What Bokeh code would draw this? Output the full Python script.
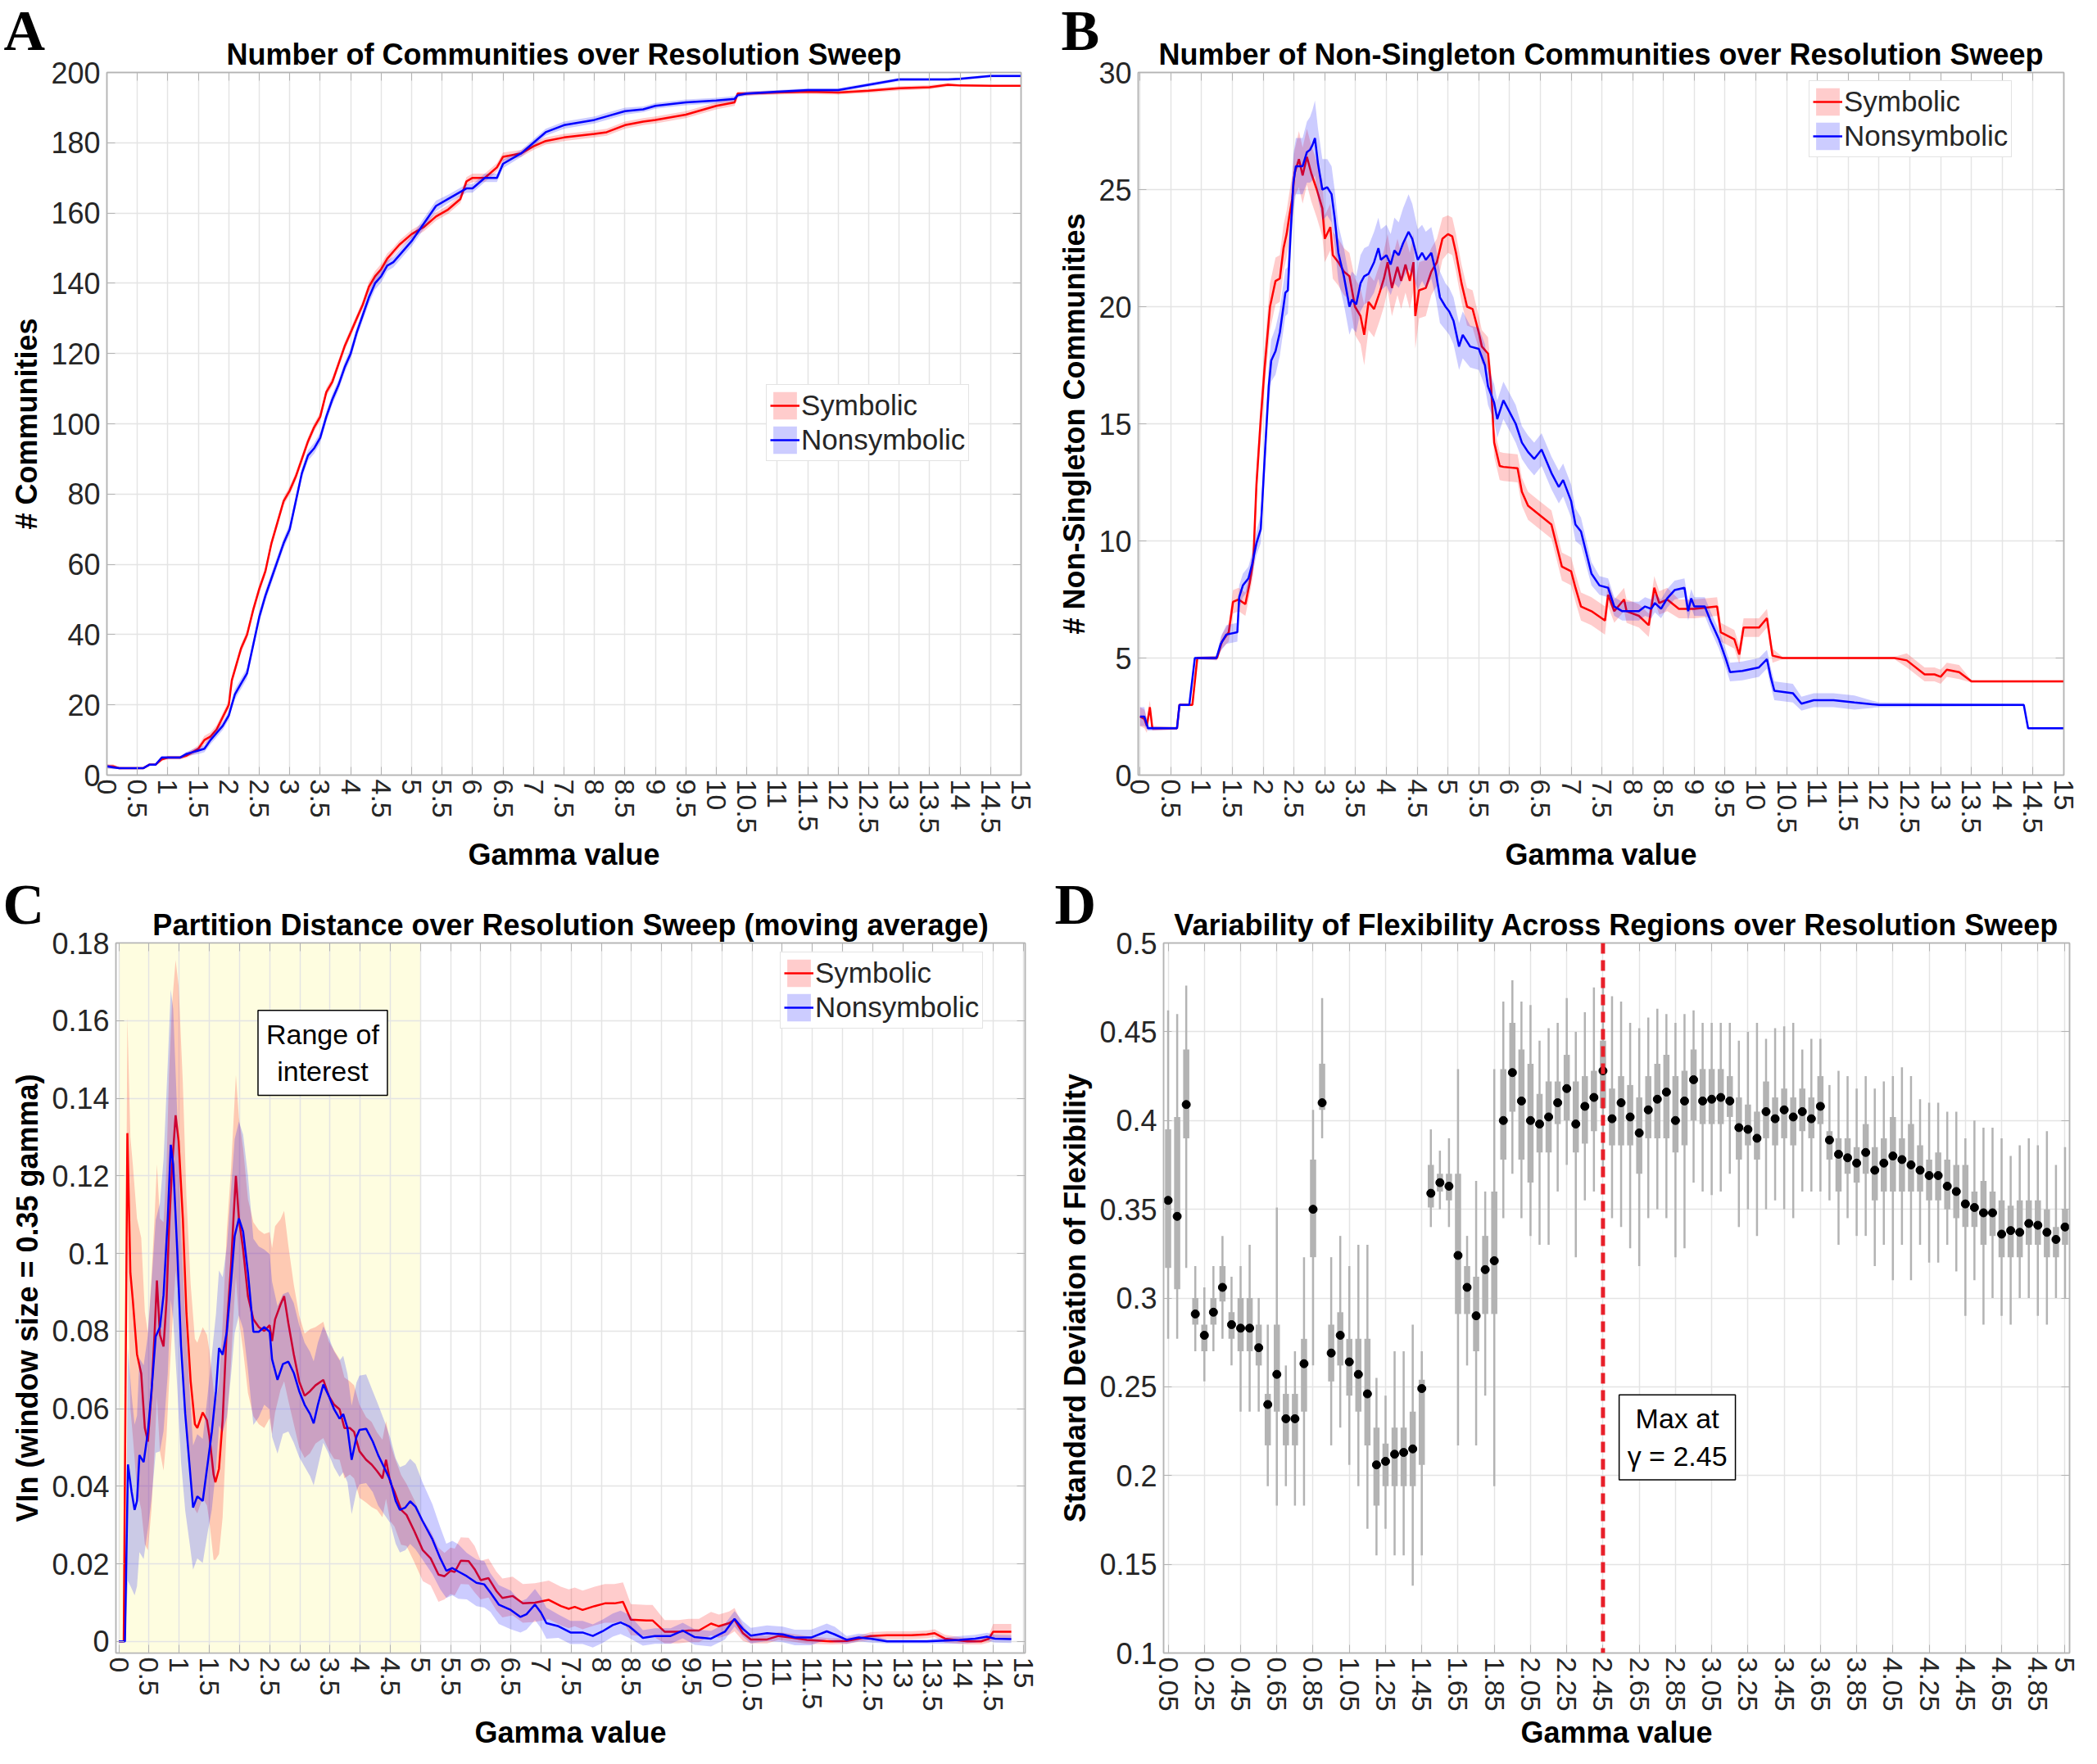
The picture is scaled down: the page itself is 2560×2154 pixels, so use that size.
import math
from bokeh.plotting import figure
from bokeh.models import (Range1d, FixedTicker, CustomJSTickFormatter, Legend, LinearAxis,
                          LegendItem, Label, Span, BoxAnnotation, Title)
from bokeh.layouts import column, row
from bokeh.embed import file_html
from bokeh.resources import INLINE

FONT = "Liberation Sans"
SERIF = "Liberation Serif"
RED = "#ff0000"
BLUE = "#0000ff"

# ---------------- data ----------------
# Panel A: (gamma, mean, half-band)
A_SYM = [(0, 2.5, 0.6), (0.1, 2.5, 0.6), (0.2, 2, 0.3), (0.3, 2, 0.2), (0.5, 2, 0.2), (0.6, 2, 0.2),
         (0.7, 3, 0.3), (0.8, 3, 0.3), (0.9, 4.5, 0.5), (1.0, 5, 0.5), (1.1, 5, 0.5), (1.2, 5, 0.5),
         (1.3, 5.5, 0.6), (1.4, 6.5, 0.8), (1.5, 7.5, 1.0), (1.6, 10, 1.2), (1.7, 11, 1.2), (1.8, 13, 1.2),
         (1.9, 16.5, 1.2), (2.0, 20, 1.2), (2.05, 27, 1.2), (2.1, 30, 1.2), (2.2, 36, 1.2), (2.3, 40, 1.2),
         (2.4, 47, 1.2), (2.5, 53, 1.2), (2.6, 58, 1.2), (2.7, 66, 1.2), (2.8, 72, 1.2), (2.9, 78, 1.2),
         (3.0, 81, 1.2), (3.1, 85, 1.2), (3.2, 90, 1.2), (3.3, 95, 1.2), (3.4, 99, 1.2), (3.5, 102, 1.2),
         (3.6, 109, 1.2), (3.7, 112, 1.2), (3.8, 117, 1.2), (3.9, 122, 1.2), (4.0, 126, 1.2), (4.1, 130, 1.2),
         (4.2, 134, 1.2), (4.3, 139, 1.5), (4.4, 142, 1.5), (4.5, 144, 1.5), (4.6, 147, 1.5), (4.7, 149, 1.2),
         (4.8, 151, 1.2), (5.0, 154, 1.2), (5.2, 156, 1.2), (5.4, 159, 1.2), (5.6, 161, 1.2), (5.8, 164, 1.2),
         (5.9, 169, 1.2), (6.0, 170, 1.2), (6.2, 170, 1.2), (6.4, 173, 1.2), (6.5, 176, 1.2), (6.8, 177, 1.0),
         (7.0, 179, 1.0), (7.2, 180.5, 1.0), (7.5, 181.5, 1.0), (8.0, 182.5, 1.0), (8.2, 183, 1.0),
         (8.5, 185, 1.0), (8.8, 186, 1.0), (9.0, 186.5, 1.0), (9.5, 188, 1.0), (10.0, 190.5, 1.0),
         (10.3, 191.5, 1.0), (10.35, 194, 0.6), (10.5, 194, 0.6), (11.0, 194.3, 0.6), (11.5, 194.5, 0.6),
         (12.0, 194.3, 0.6), (12.5, 194.8, 0.6), (13.0, 195.5, 0.6), (13.5, 195.8, 0.6), (13.8, 196.5, 0.5),
         (14.0, 196.3, 0.3), (14.5, 196.2, 0.2), (15.0, 196.2, 0.2)]
A_NON = [(0, 2.5, 0.6), (0.1, 2.2, 0.5), (0.2, 2, 0.3), (0.3, 2, 0.2), (0.5, 2, 0.2), (0.6, 2, 0.2),
         (0.7, 3, 0.3), (0.8, 3, 0.3), (0.9, 5, 0.4), (1.0, 5, 0.4), (1.1, 5, 0.4), (1.2, 5, 0.4),
         (1.3, 6, 0.6), (1.4, 6.5, 0.8), (1.5, 7, 1.0), (1.6, 7.5, 1.0), (1.7, 10, 1.2), (1.8, 12, 1.2),
         (1.9, 14, 1.2), (2.0, 17, 1.2), (2.05, 20, 1.2), (2.1, 23, 1.5), (2.2, 26, 1.5), (2.3, 29, 1.5),
         (2.4, 37, 1.5), (2.5, 45, 1.5), (2.6, 51, 1.5), (2.7, 56, 1.5), (2.8, 61, 1.5), (2.9, 66, 1.5),
         (3.0, 70, 1.5), (3.1, 78, 1.5), (3.2, 86, 1.5), (3.3, 91, 1.5), (3.4, 93, 1.5), (3.5, 96, 1.5),
         (3.6, 102, 1.5), (3.7, 107, 1.5), (3.8, 111, 1.5), (3.9, 116, 1.5), (4.0, 120, 1.5), (4.1, 126, 1.5),
         (4.2, 131, 1.5), (4.3, 136, 1.8), (4.4, 140, 1.8), (4.5, 142, 1.8), (4.6, 145, 1.5), (4.7, 146, 1.5),
         (4.8, 148, 1.5), (5.0, 152, 1.5), (5.2, 157, 1.5), (5.4, 162, 1.5), (5.6, 164, 1.2), (5.8, 166, 1.2),
         (5.9, 167, 1.2), (6.0, 167, 1.2), (6.2, 170, 1.2), (6.4, 170, 1.2), (6.5, 174, 1.2), (6.8, 177, 1.0),
         (7.0, 180, 1.0), (7.2, 183, 1.0), (7.5, 185, 1.0), (8.0, 186.5, 1.0), (8.2, 187.5, 1.0),
         (8.5, 189, 1.0), (8.8, 189.5, 0.8), (9.0, 190.5, 0.8), (9.5, 191.5, 0.8), (10.0, 192, 0.8),
         (10.3, 192.5, 0.8), (10.35, 193.5, 0.6), (10.5, 194, 0.6), (11.0, 194.5, 0.5), (11.5, 195, 0.5),
         (12.0, 195, 0.5), (12.5, 196.5, 0.5), (13.0, 198, 0.5), (13.5, 198, 0.4), (13.8, 198, 0.4),
         (14.0, 198.2, 0.4), (14.5, 199, 0.4), (15.0, 199, 0.4)]

# Panel B
B_SYM = [(0.0, 2.5, 0.4), (0.07, 2.4, 0.4), (0.11, 2.1, 0.3), (0.16, 2.9, 0.3), (0.2, 2.0, 0.1), (0.6, 2.0, 0.05),
         (0.64, 3.0, 0.05), (0.85, 3.0, 0.05), (0.93, 5.0, 0.05), (1.25, 5.0, 0.1), (1.33, 5.7, 0.3),
         (1.44, 6.1, 0.4), (1.51, 7.4, 0.5), (1.6, 7.5, 0.5), (1.71, 7.3, 0.5), (1.78, 8.2, 0.5), (1.84, 9.2, 0.6),
         (1.89, 12.4, 0.7), (1.96, 15.2, 0.8), (2.02, 17.3, 0.9), (2.11, 20.0, 1.0), (2.2, 21.1, 1.0),
         (2.27, 21.2, 1.0), (2.33, 22.5, 1.0), (2.38, 23.1, 1.0), (2.42, 23.8, 1.0), (2.47, 24.6, 1.0),
         (2.51, 25.7, 1.0), (2.58, 26.3, 1.2), (2.64, 25.6, 1.2), (2.71, 26.4, 1.2), (2.78, 25.7, 1.2),
         (2.87, 25.0, 1.2), (2.96, 24.2, 1.2), (3.0, 22.9, 1.0), (3.09, 23.4, 1.0), (3.13, 22.2, 1.0),
         (3.22, 21.9, 1.0), (3.31, 21.5, 1.0), (3.4, 21.3, 1.0), (3.49, 20.0, 1.2), (3.58, 19.6, 1.2),
         (3.64, 18.8, 1.3), (3.71, 20.2, 1.2), (3.8, 19.9, 1.2), (3.89, 20.6, 1.2), (3.96, 21.2, 1.2),
         (4.02, 21.9, 1.2), (4.09, 20.8, 1.2), (4.18, 21.7, 1.2), (4.24, 21.1, 1.2), (4.31, 21.8, 1.2),
         (4.38, 21.1, 1.2), (4.44, 21.9, 1.2), (4.47, 19.6, 1.4), (4.53, 20.7, 1.2), (4.64, 20.8, 1.2),
         (4.73, 21.5, 1.0), (4.82, 21.9, 1.0), (4.91, 22.9, 0.9), (5.0, 23.1, 0.8), (5.07, 23.0, 0.8),
         (5.13, 22.3, 0.8), (5.22, 21.0, 0.8), (5.31, 20.0, 0.8), (5.4, 19.9, 0.8), (5.5, 18.9, 0.7),
         (5.55, 18.3, 0.7), (5.65, 18.0, 0.7), (5.7, 16.6, 0.7), (5.75, 14.2, 0.6), (5.84, 13.2, 0.6),
         (5.9, 13.16, 0.6), (6.13, 13.1, 0.6), (6.2, 12.1, 0.6), (6.3, 11.5, 0.6), (6.49, 11.1, 0.6),
         (6.68, 10.7, 0.6), (6.85, 8.9, 0.6), (7.0, 8.7, 0.6), (7.07, 8.0, 0.6), (7.16, 7.2, 0.6),
         (7.33, 7.0, 0.6), (7.55, 6.6, 0.6), (7.6, 7.7, 0.5), (7.7, 7.0, 0.5), (7.86, 7.5, 0.5), (7.9, 7.0, 0.5),
         (8.1, 6.8, 0.5), (8.26, 6.4, 0.5), (8.35, 8.0, 0.5), (8.43, 7.35, 0.5), (8.56, 7.5, 0.5),
         (8.75, 7.1, 0.4), (9.0, 7.1, 0.4), (9.37, 7.2, 0.4), (9.43, 6.1, 0.4), (9.65, 5.8, 0.4),
         (9.73, 5.15, 0.4), (9.8, 6.3, 0.4), (10.05, 6.3, 0.4), (10.18, 6.7, 0.4), (10.27, 5.1, 0.3),
         (10.43, 5.0, 0.05), (12.25, 5.0, 0.05), (12.45, 4.9, 0.3), (12.74, 4.3, 0.3), (12.9, 4.3, 0.3),
         (13.0, 4.2, 0.3), (13.1, 4.5, 0.3), (13.3, 4.4, 0.3), (13.5, 4.0, 0.05), (15.0, 4.0, 0.05)]
B_NON = [(0.0, 2.5, 0.4), (0.07, 2.5, 0.4), (0.13, 2.0, 0.1), (0.6, 2.0, 0.05), (0.64, 3.0, 0.05), (0.8, 3.0, 0.05),
         (0.89, 5.0, 0.05), (1.24, 5.0, 0.1), (1.31, 5.6, 0.3), (1.4, 6.0, 0.4), (1.58, 6.1, 0.4), (1.61, 7.6, 0.5),
         (1.67, 8.1, 0.5), (1.76, 8.4, 0.5), (1.82, 9.0, 0.5), (1.89, 9.9, 0.5), (1.96, 10.5, 0.6), (2.0, 12.4, 0.7),
         (2.04, 14.3, 0.8), (2.09, 16.6, 0.9), (2.13, 17.7, 0.9), (2.2, 18.1, 1.0), (2.27, 18.9, 1.0),
         (2.36, 20.6, 1.0), (2.4, 20.7, 1.0), (2.44, 22.9, 1.0), (2.49, 25.3, 1.2), (2.53, 26.0, 1.2),
         (2.64, 26.0, 1.2), (2.71, 26.6, 1.3), (2.76, 26.7, 1.4), (2.8, 26.9, 1.5), (2.84, 27.2, 1.6),
         (2.89, 26.1, 1.5), (2.96, 25.0, 1.3), (3.04, 25.1, 1.2), (3.11, 24.8, 1.2), (3.16, 23.8, 1.2),
         (3.22, 22.3, 1.2), (3.31, 21.3, 1.2), (3.4, 20.0, 1.2), (3.44, 20.3, 1.2), (3.51, 20.1, 1.2),
         (3.58, 21.0, 1.2), (3.64, 21.3, 1.2), (3.71, 21.4, 1.2), (3.8, 21.9, 1.3), (3.87, 22.5, 1.3),
         (3.91, 22.0, 1.3), (4.0, 22.2, 1.3), (4.07, 21.8, 1.3), (4.13, 22.4, 1.4), (4.2, 22.2, 1.4),
         (4.27, 22.7, 1.5), (4.36, 23.2, 1.6), (4.42, 22.9, 1.5), (4.51, 22.0, 1.3), (4.58, 22.3, 1.2),
         (4.64, 22.0, 1.2), (4.73, 22.3, 1.1), (4.8, 21.5, 1.1), (4.87, 20.4, 1.1), (4.96, 20.0, 1.0),
         (5.02, 19.8, 1.0), (5.09, 19.4, 1.0), (5.18, 18.3, 1.0), (5.24, 18.8, 1.0), (5.36, 18.3, 0.9),
         (5.5, 18.2, 0.9), (5.6, 17.5, 0.9), (5.65, 16.6, 0.8), (5.75, 15.9, 0.8), (5.8, 15.2, 0.8),
         (5.9, 16.0, 0.8), (6.0, 15.5, 0.8), (6.1, 15.0, 0.8), (6.2, 14.2, 0.7), (6.3, 13.8, 0.7),
         (6.4, 13.5, 0.7), (6.52, 13.9, 0.7), (6.68, 12.9, 0.7), (6.8, 12.3, 0.7), (6.87, 12.6, 0.7),
         (7.0, 11.7, 0.7), (7.07, 10.7, 0.7), (7.16, 10.4, 0.6), (7.33, 8.6, 0.5), (7.46, 8.1, 0.4),
         (7.6, 8.0, 0.4), (7.7, 7.2, 0.4), (7.83, 7.0, 0.4), (8.1, 7.0, 0.4), (8.2, 7.2, 0.4), (8.3, 7.1, 0.4),
         (8.36, 7.35, 0.4), (8.46, 7.1, 0.4), (8.56, 7.55, 0.4), (8.68, 7.9, 0.4), (8.84, 8.0, 0.4),
         (8.9, 7.0, 0.4), (8.95, 7.55, 0.4), (9.0, 7.2, 0.4), (9.17, 7.2, 0.4), (9.27, 6.55, 0.4),
         (9.4, 5.8, 0.4), (9.52, 4.9, 0.4), (9.58, 4.4, 0.4), (9.78, 4.45, 0.4), (10.05, 4.6, 0.4),
         (10.18, 4.95, 0.4), (10.24, 4.2, 0.4), (10.3, 3.6, 0.4), (10.6, 3.5, 0.4), (10.74, 3.05, 0.3),
         (10.94, 3.2, 0.3), (11.26, 3.2, 0.3), (11.6, 3.1, 0.3), (12.0, 3.0, 0.1), (14.35, 3.0, 0.05),
         (14.42, 2.0, 0.05), (15.0, 2.0, 0.05)]

# Panel C
C_SYM = [(0.0, 0.0, 0.0), (0.08, 0.0, 0.0), (0.14, 0.131, 0.03), (0.19, 0.095, 0.035), (0.23, 0.088, 0.035),
         (0.3, 0.074, 0.035), (0.37, 0.069, 0.035), (0.43, 0.055, 0.03), (0.48, 0.0515, 0.028),
         (0.54, 0.064, 0.03), (0.59, 0.079, 0.03), (0.63, 0.093, 0.03), (0.68, 0.079, 0.03),
         (0.74, 0.076, 0.032), (0.79, 0.088, 0.035), (0.83, 0.106, 0.04), (0.88, 0.122, 0.042),
         (0.94, 0.1356, 0.04), (0.99, 0.129, 0.04), (1.06, 0.109, 0.035), (1.12, 0.0845, 0.03),
         (1.19, 0.067, 0.025), (1.26, 0.056, 0.022), (1.3, 0.055, 0.022), (1.39, 0.059, 0.022),
         (1.46, 0.057, 0.022), (1.5, 0.053, 0.022), (1.57, 0.043, 0.022), (1.6, 0.041, 0.02),
         (1.66, 0.0445, 0.022), (1.72, 0.057, 0.025), (1.79, 0.081, 0.025), (1.86, 0.097, 0.025),
         (1.9, 0.109, 0.025), (1.94, 0.120, 0.026), (1.99, 0.109, 0.026), (2.06, 0.101, 0.026),
         (2.14, 0.089, 0.025), (2.23, 0.083, 0.025), (2.32, 0.081, 0.025), (2.41, 0.080, 0.025),
         (2.5, 0.0815, 0.024), (2.54, 0.0774, 0.024), (2.59, 0.083, 0.024), (2.68, 0.0868, 0.022),
         (2.74, 0.089, 0.022), (2.81, 0.082, 0.02), (2.9, 0.074, 0.018), (2.99, 0.067, 0.017),
         (3.08, 0.0633, 0.016), (3.17, 0.0645, 0.016), (3.26, 0.066, 0.015), (3.39, 0.0674, 0.015),
         (3.48, 0.0633, 0.014), (3.57, 0.061, 0.014), (3.66, 0.0598, 0.013), (3.74, 0.055, 0.013),
         (3.83, 0.055, 0.012), (3.9, 0.054, 0.012), (3.99, 0.049, 0.012), (4.1, 0.0468, 0.011),
         (4.19, 0.0456, 0.011), (4.28, 0.0439, 0.01), (4.37, 0.042, 0.01), (4.43, 0.0468, 0.01),
         (4.5, 0.041, 0.01), (4.57, 0.0386, 0.009), (4.68, 0.0339, 0.009), (4.77, 0.0326, 0.008),
         (4.9, 0.0284, 0.008), (5.04, 0.0235, 0.008), (5.17, 0.0214, 0.007), (5.3, 0.0172, 0.007),
         (5.4, 0.0168, 0.006), (5.5, 0.0182, 0.006), (5.57, 0.0179, 0.006), (5.67, 0.0208, 0.006),
         (5.8, 0.0207, 0.006), (5.9, 0.0186, 0.006), (6.0, 0.0158, 0.005), (6.13, 0.0163, 0.005),
         (6.26, 0.013, 0.005), (6.36, 0.0112, 0.005), (6.53, 0.0117, 0.005), (6.7, 0.0098, 0.005),
         (6.9, 0.01, 0.005), (7.13, 0.0107, 0.005), (7.33, 0.0091, 0.005), (7.46, 0.0084, 0.005),
         (7.56, 0.0089, 0.005), (7.69, 0.0081, 0.005), (7.89, 0.0091, 0.005), (8.06, 0.0098, 0.005),
         (8.22, 0.0098, 0.005), (8.36, 0.0102, 0.005), (8.49, 0.0056, 0.004), (8.75, 0.0054, 0.004),
         (8.85, 0.0054, 0.004), (9.05, 0.0025, 0.003), (9.28, 0.0025, 0.003), (9.45, 0.0028, 0.003),
         (9.62, 0.0028, 0.003), (9.82, 0.0046, 0.003), (9.95, 0.0039, 0.003), (10.12, 0.0047, 0.003),
         (10.21, 0.0056, 0.003), (10.35, 0.0021, 0.002), (10.48, 0.0005, 0.001), (10.75, 0.0005, 0.001),
         (10.94, 0.0014, 0.001), (11.14, 0.001, 0.001), (11.41, 0.0004, 0.001), (11.8, 0.0, 0.0008),
         (12.07, 0.0001, 0.0008), (12.27, 0.0007, 0.0008), (12.47, 0.0014, 0.001), (12.74, 0.0016, 0.001),
         (13.14, 0.0016, 0.001), (13.4, 0.0018, 0.001), (13.53, 0.0021, 0.001), (13.7, 0.0007, 0.001),
         (14.07, 0.0, 0.0008), (14.3, 0.0, 0.0008), (14.43, 0.0007, 0.001), (14.5, 0.0025, 0.002),
         (14.8, 0.0025, 0.002)]
C_NON = [(0.0, 0.0, 0.0), (0.1, 0.0, 0.0), (0.15, 0.0456, 0.03), (0.21, 0.0386, 0.025), (0.26, 0.0339, 0.022),
         (0.3, 0.0362, 0.022), (0.34, 0.048, 0.025), (0.41, 0.0462, 0.025), (0.48, 0.0539, 0.025),
         (0.54, 0.0645, 0.028), (0.61, 0.0786, 0.03), (0.68, 0.081, 0.032), (0.74, 0.0892, 0.035),
         (0.81, 0.109, 0.04), (0.86, 0.128, 0.04), (0.9, 0.123, 0.04), (0.97, 0.0998, 0.035),
         (1.03, 0.0762, 0.03), (1.1, 0.0586, 0.025), (1.17, 0.0456, 0.02), (1.23, 0.0345, 0.016),
         (1.3, 0.0374, 0.016), (1.39, 0.0362, 0.016), (1.48, 0.0468, 0.018), (1.54, 0.0539, 0.02),
         (1.61, 0.0645, 0.02), (1.66, 0.0756, 0.02), (1.72, 0.0739, 0.02), (1.79, 0.0798, 0.022),
         (1.86, 0.0927, 0.024), (1.92, 0.1045, 0.025), (1.99, 0.109, 0.025), (2.06, 0.1056, 0.025),
         (2.14, 0.095, 0.025), (2.23, 0.0798, 0.024), (2.32, 0.0798, 0.022), (2.41, 0.081, 0.02),
         (2.5, 0.0798, 0.02), (2.54, 0.0727, 0.02), (2.63, 0.0674, 0.019), (2.72, 0.0715, 0.018),
         (2.81, 0.0721, 0.018), (2.9, 0.0692, 0.018), (2.99, 0.0645, 0.017), (3.08, 0.061, 0.016),
         (3.17, 0.0586, 0.016), (3.23, 0.0562, 0.016), (3.3, 0.061, 0.016), (3.39, 0.0662, 0.015),
         (3.48, 0.0633, 0.015), (3.57, 0.0598, 0.015), (3.66, 0.0574, 0.015), (3.72, 0.0586, 0.015),
         (3.79, 0.055, 0.014), (3.86, 0.0468, 0.014), (3.94, 0.0527, 0.014), (3.99, 0.0545, 0.014),
         (4.1, 0.0548, 0.014), (4.21, 0.0515, 0.013), (4.3, 0.048, 0.013), (4.41, 0.0445, 0.012),
         (4.5, 0.0415, 0.011), (4.59, 0.0362, 0.011), (4.66, 0.0339, 0.011), (4.75, 0.0345, 0.011),
         (4.83, 0.0361, 0.011), (4.92, 0.0347, 0.011), (5.03, 0.0312, 0.01), (5.2, 0.0263, 0.009),
         (5.33, 0.0214, 0.008), (5.43, 0.0182, 0.007), (5.53, 0.0189, 0.007), (5.63, 0.018, 0.007),
         (5.77, 0.0168, 0.006), (5.93, 0.0151, 0.006), (6.06, 0.0147, 0.006), (6.16, 0.0126, 0.005),
         (6.3, 0.0095, 0.005), (6.5, 0.0081, 0.005), (6.66, 0.0063, 0.004), (6.76, 0.007, 0.004),
         (6.9, 0.0095, 0.004), (7.0, 0.0074, 0.004), (7.09, 0.0047, 0.004), (7.29, 0.0039, 0.003),
         (7.49, 0.0023, 0.003), (7.69, 0.0023, 0.003), (7.86, 0.0014, 0.003), (8.02, 0.0026, 0.003),
         (8.19, 0.0042, 0.003), (8.32, 0.0049, 0.003), (8.46, 0.0039, 0.003), (8.69, 0.0009, 0.002),
         (8.89, 0.0014, 0.002), (9.15, 0.0014, 0.002), (9.35, 0.0028, 0.002), (9.55, 0.0011, 0.002),
         (9.82, 0.0007, 0.002), (10.05, 0.0025, 0.002), (10.21, 0.0058, 0.002), (10.35, 0.0032, 0.002),
         (10.48, 0.0015, 0.002), (10.75, 0.0021, 0.002), (11.01, 0.0018, 0.002), (11.21, 0.001, 0.002),
         (11.48, 0.001, 0.002), (11.74, 0.0026, 0.002), (11.87, 0.0018, 0.002), (12.07, 0.0004, 0.001),
         (12.27, 0.001, 0.001), (12.47, 0.0007, 0.001), (12.74, 0.0, 0.0005), (13.4, 0.0, 0.0005),
         (13.94, 0.0004, 0.001), (14.2, 0.0007, 0.001), (14.4, 0.0012, 0.001), (14.53, 0.0007, 0.001),
         (14.8, 0.0006, 0.001)]

# Panel D: box plot per gamma (0.05 .. 5.00)
D_GAMMA = [round(0.05 * k, 2) for k in range(1, 101)]
D_MED = [0.355, 0.346, 0.409, 0.291, 0.279, 0.292, 0.306, 0.285, 0.283, 0.283,
         0.272, 0.240, 0.257, 0.232, 0.232, 0.263, 0.350, 0.410, 0.269, 0.279,
         0.264, 0.257, 0.246, 0.206, 0.208, 0.212, 0.213, 0.215, 0.249, 0.359,
         0.365, 0.363, 0.324, 0.306, 0.290, 0.316, 0.321, 0.400, 0.427, 0.411,
         0.400, 0.398, 0.402, 0.410, 0.418, 0.398, 0.408, 0.413, 0.428, 0.401,
         0.410, 0.402, 0.393, 0.406, 0.412, 0.416, 0.400, 0.411, 0.423, 0.411,
         0.412, 0.413, 0.411, 0.396, 0.395, 0.390, 0.405, 0.401, 0.406, 0.402,
         0.405, 0.401, 0.408, 0.389, 0.381, 0.379, 0.376, 0.382, 0.372, 0.376,
         0.380, 0.378, 0.375, 0.372, 0.369, 0.369, 0.363, 0.360, 0.353, 0.351,
         0.348, 0.348, 0.336, 0.338, 0.337, 0.342, 0.341, 0.337, 0.333, 0.340]
D_Q1 = [0.317, 0.305, 0.390, 0.285, 0.270, 0.285, 0.298, 0.277, 0.270, 0.270,
        0.262, 0.217, 0.236, 0.217, 0.217, 0.236, 0.323, 0.406, 0.253, 0.262,
        0.245, 0.236, 0.217, 0.183, 0.194, 0.194, 0.194, 0.194, 0.206, 0.351,
        0.360, 0.355, 0.291, 0.291, 0.270, 0.291, 0.291, 0.378, 0.405, 0.378,
        0.365, 0.382, 0.382, 0.398, 0.400, 0.382, 0.387, 0.394, 0.407, 0.386,
        0.386, 0.386, 0.370, 0.390, 0.390, 0.390, 0.382, 0.386, 0.400, 0.398,
        0.398, 0.398, 0.402, 0.378, 0.386, 0.378, 0.390, 0.386, 0.390, 0.386,
        0.394, 0.390, 0.398, 0.378, 0.360, 0.370, 0.365, 0.370, 0.355, 0.360,
        0.360, 0.360, 0.360, 0.360, 0.355, 0.355, 0.350, 0.345, 0.340, 0.340,
        0.330, 0.335, 0.323, 0.323, 0.323, 0.330, 0.330, 0.323, 0.323, 0.330]
D_Q3 = [0.395, 0.402, 0.440, 0.300, 0.285, 0.300, 0.318, 0.292, 0.300, 0.300,
        0.285, 0.246, 0.285, 0.246, 0.246, 0.277, 0.378, 0.432, 0.285, 0.292,
        0.277, 0.277, 0.277, 0.227, 0.218, 0.227, 0.227, 0.236, 0.254, 0.375,
        0.370, 0.370, 0.370, 0.318, 0.312, 0.335, 0.360, 0.429, 0.455, 0.440,
        0.432, 0.415, 0.422, 0.422, 0.437, 0.422, 0.425, 0.428, 0.445, 0.418,
        0.425, 0.420, 0.413, 0.425, 0.432, 0.437, 0.425, 0.428, 0.440, 0.429,
        0.429, 0.429, 0.425, 0.413, 0.409, 0.405, 0.422, 0.413, 0.418, 0.413,
        0.418, 0.413, 0.425, 0.394, 0.390, 0.390, 0.385, 0.398, 0.385, 0.390,
        0.402, 0.390, 0.398, 0.386, 0.378, 0.382, 0.378, 0.375, 0.375, 0.360,
        0.366, 0.360, 0.355, 0.352, 0.355, 0.355, 0.355, 0.350, 0.340, 0.350]
D_LO = [0.277, 0.277, 0.317, 0.270, 0.253, 0.270, 0.277, 0.262, 0.236, 0.236,
        0.236, 0.194, 0.183, 0.194, 0.183, 0.183, 0.262, 0.390, 0.217, 0.227,
        0.206, 0.194, 0.170, 0.155, 0.170, 0.155, 0.155, 0.138, 0.155, 0.340,
        0.350, 0.340, 0.217, 0.262, 0.217, 0.245, 0.194, 0.345, 0.370, 0.345,
        0.335, 0.330, 0.330, 0.360, 0.375, 0.323, 0.355, 0.360, 0.370, 0.345,
        0.340, 0.328, 0.318, 0.345, 0.350, 0.345, 0.323, 0.328, 0.365, 0.360,
        0.358, 0.360, 0.370, 0.340, 0.350, 0.335, 0.350, 0.355, 0.350, 0.345,
        0.360, 0.360, 0.360, 0.355, 0.330, 0.345, 0.335, 0.335, 0.318, 0.330,
        0.310, 0.330, 0.310, 0.330, 0.320, 0.320, 0.330, 0.315, 0.290, 0.310,
        0.285, 0.300, 0.290, 0.285, 0.300, 0.300, 0.290, 0.285, 0.300, 0.300]
D_HI = [0.462, 0.460, 0.476, 0.318, 0.306, 0.318, 0.335, 0.312, 0.318, 0.330,
        0.300, 0.285, 0.351, 0.262, 0.270, 0.323, 0.406, 0.469, 0.323, 0.335,
        0.318, 0.330, 0.330, 0.255, 0.245, 0.270, 0.270, 0.285, 0.270, 0.395,
        0.383, 0.390, 0.429, 0.335, 0.366, 0.360, 0.429, 0.467, 0.479, 0.467,
        0.465, 0.445, 0.452, 0.455, 0.469, 0.450, 0.461, 0.475, 0.475, 0.470,
        0.467, 0.455, 0.452, 0.458, 0.463, 0.460, 0.455, 0.460, 0.462, 0.455,
        0.455, 0.455, 0.455, 0.445, 0.450, 0.455, 0.446, 0.452, 0.453, 0.455,
        0.440, 0.446, 0.446, 0.420, 0.428, 0.425, 0.418, 0.425, 0.418, 0.422,
        0.425, 0.430, 0.425, 0.412, 0.410, 0.410, 0.405, 0.405, 0.390, 0.400,
        0.396, 0.396, 0.390, 0.380, 0.386, 0.390, 0.386, 0.394, 0.375, 0.385]
D_TICKS = [0.05, 0.25, 0.45, 0.65, 0.85, 1.05, 1.25, 1.45, 1.65, 1.85, 2.05, 2.25, 2.45,
           2.65, 2.85, 3.05, 3.25, 3.45, 3.65, 3.85, 4.05, 4.25, 4.45, 4.65, 4.85, 5.0]
D_MAX_GAMMA = 2.45

GAMMA_TICKS = [i * 0.5 for i in range(31)]
A_YTICKS = list(range(0, 201, 20))
B_YTICKS = list(range(0, 31, 5))
C_YTICKS = [0, 0.02, 0.04, 0.06, 0.08, 0.1, 0.12, 0.14, 0.16, 0.18]
D_YTICKS = [0.1, 0.15, 0.2, 0.25, 0.3, 0.35, 0.4, 0.45, 0.5]

FMT = "return tick.toFixed(2).replace(/\\.?0+$/, '');"
AXC = "#b4b4b4"


def box_axis(xticks_or_yticks):
    ax = LinearAxis(ticker=FixedTicker(ticks=xticks_or_yticks),
                    formatter=CustomJSTickFormatter(code="return '';"))
    ax.axis_line_color = AXC
    ax.axis_line_width = 1.5
    ax.major_tick_line_color = AXC
    ax.major_tick_in = 10
    ax.major_tick_out = 0
    ax.minor_tick_line_color = None
    ax.major_label_text_font_size = "0px"
    ax.major_label_standoff = 0
    return ax


def make_fig(w, h, xr, yr, borders, title, letter_txt, letter_off, letter_standoff, xticks, yticks):
    p = figure(width=w, height=h, x_range=Range1d(*xr), y_range=Range1d(*yr),
               output_backend="svg", toolbar_location=None, title=None,
               min_border_left=borders[0], min_border_right=borders[1],
               min_border_top=borders[2], min_border_bottom=borders[3])
    p.add_layout(box_axis(xticks), "above")
    p.add_layout(box_axis(yticks), "right")
    p.add_layout(Title(text=title, align="center", text_font=FONT, text_font_size="36px",
                       text_font_style="bold", text_color="black", standoff=4), "above")
    p.add_layout(Title(text=letter_txt, align="left", offset=letter_off, text_font=SERIF,
                       text_font_size="70px", text_font_style="bold", text_color="black",
                       standoff=letter_standoff), "above")
    p.outline_line_color = AXC
    p.outline_line_width = 1.5
    p.background_fill_color = "white"
    p.border_fill_color = "white"
    xa = p.below[0]
    ya = p.left[0]
    xa.ticker = FixedTicker(ticks=xticks)
    ya.ticker = FixedTicker(ticks=yticks)
    for ax in (xa, ya):
        ax.axis_line_color = AXC
        ax.axis_line_width = 1.5
        ax.major_tick_line_color = AXC
        ax.major_tick_in = 10
        ax.major_tick_out = 0
        ax.minor_tick_line_color = None
        ax.major_label_text_font = FONT
        ax.major_label_text_color = "#262626"
        ax.axis_label_text_font = FONT
        ax.axis_label_text_font_style = "bold"
        ax.axis_label_text_font_size = "36px"
        ax.axis_label_text_color = "black"
        ax.formatter = CustomJSTickFormatter(code=FMT)
    xa.major_label_text_font_size = "34px"
    ya.major_label_text_font_size = "36px"
    xa.major_label_orientation = -math.pi / 2
    xa.major_label_standoff = 5
    xa.axis_label_standoff = 2
    ya.major_label_standoff = 8
    ya.axis_label_standoff = 6
    xa.axis_label = "Gamma value"
    p.grid.grid_line_color = "#e4e4e4"
    p.grid.grid_line_width = 1.5
    return p


def series(p, pts, color):
    xs = [t[0] for t in pts]
    ys = [t[1] for t in pts]
    lo = [t[1] - t[2] for t in pts]
    hi = [t[1] + t[2] for t in pts]
    band = p.varea(x=xs, y1=lo, y2=hi, fill_color=color, fill_alpha=0.2)
    ln = p.line(xs, ys, line_color=color, line_width=2.5)
    return [band, ln]


def add_legend(p, r_sym, r_non, loc):
    leg = Legend(items=[LegendItem(label="Symbolic", renderers=r_sym),
                        LegendItem(label="Nonsymbolic", renderers=r_non)],
                 location=loc, label_text_font=FONT, label_text_font_size="35px",
                 label_text_color="#262626", glyph_width=36, glyph_height=42, label_height=42,
                 label_standoff=2, spacing=0, padding=4, margin=0,
                 border_line_color="#c8c8c8", border_line_width=1.5,
                 background_fill_color="white", background_fill_alpha=1)
    p.add_layout(leg)


H1 = 1066
H2 = 1072

# ---------------- Panel A ----------------
pA = make_fig(1272, H1, (0, 15), (0, 200), (130, 26, 88, 105),
              "Number of Communities over Resolution Sweep", "A", -126, -68, GAMMA_TICKS, A_YTICKS)
pA.left[0].axis_label = "# Communities"
ra = series(pA, A_SYM, RED)
ba = series(pA, A_NON, BLUE)
add_legend(pA, ra, ba, (805, 383))

# ---------------- Panel B ----------------
pB = make_fig(1272, H1, (-0.03, 15), (0, 30), (117, 25, 88, 105),
              "Number of Non-Singleton Communities over Resolution Sweep", "B", -94, -68,
              GAMMA_TICKS, B_YTICKS)
pB.left[0].axis_label = "# Non-Singleton Communities"
rb = series(pB, B_SYM, RED)
bb = series(pB, B_NON, BLUE)
add_legend(pB, rb, bb, (819, 754))

# ---------------- Panel C ----------------
pC = make_fig(1272, H2, (-0.05, 15.03), (-0.003, 0.18), (141, 21, 85, 110),
              "Partition Distance over Resolution Sweep (moving average)", "C", -138, -76,
              GAMMA_TICKS, C_YTICKS)
pC.left[0].axis_label = "VIn (window size = 0.35 gamma)"
pC.add_layout(BoxAnnotation(left=0, right=5, fill_color="#fefde0", fill_alpha=1,
                            line_color=None, level="image"))
rc = series(pC, C_SYM, RED)
bc = series(pC, C_NON, BLUE)
add_legend(pC, rc, bc, (811, 762))
pC.add_layout(Label(x=3.38, y=0.1517, text="Range of\ninterest", text_font=FONT,
                    text_font_size="34px", text_align="center", text_baseline="middle",
                    text_color="black", background_fill_color="white",
                    border_line_color="black", border_line_width=1.5, padding=10))

# ---------------- Panel D ----------------
pD = make_fig(1272, H2, (0.025, 5.025), (0.1, 0.5), (148, 18, 85, 105),
              "Variability of Flexibility Across Regions over Resolution Sweep", "D", -133, -76,
              D_TICKS, D_YTICKS)
pD.left[0].axis_label = "Standard Deviation of Flexibility"
pD.segment(x0=D_GAMMA, y0=D_LO, x1=D_GAMMA, y1=D_HI, line_color="#b3b3b3", line_width=2.5)
pD.vbar(x=D_GAMMA, width=0.034, bottom=D_Q1, top=D_Q3, fill_color="#b3b3b3", line_color=None)
pD.scatter(x=D_GAMMA, y=D_MED, size=10, fill_color="black", line_color="black")
pD.add_layout(Span(location=D_MAX_GAMMA, dimension="height", line_color="#e8202a",
                   line_width=5, line_dash="13 8"))
pD.add_layout(Label(x=2.86, y=0.2215, text="Max at\n\u03b3 = 2.45", text_font=FONT,
                    text_font_size="34px", text_align="center", text_baseline="middle",
                    text_color="black", background_fill_color="white",
                    border_line_color="black", border_line_width=1.5, padding=10))

layout = column(row(pA, pB), row(pC, pD))

open("out.html", "w").write(file_html(layout, INLINE))
